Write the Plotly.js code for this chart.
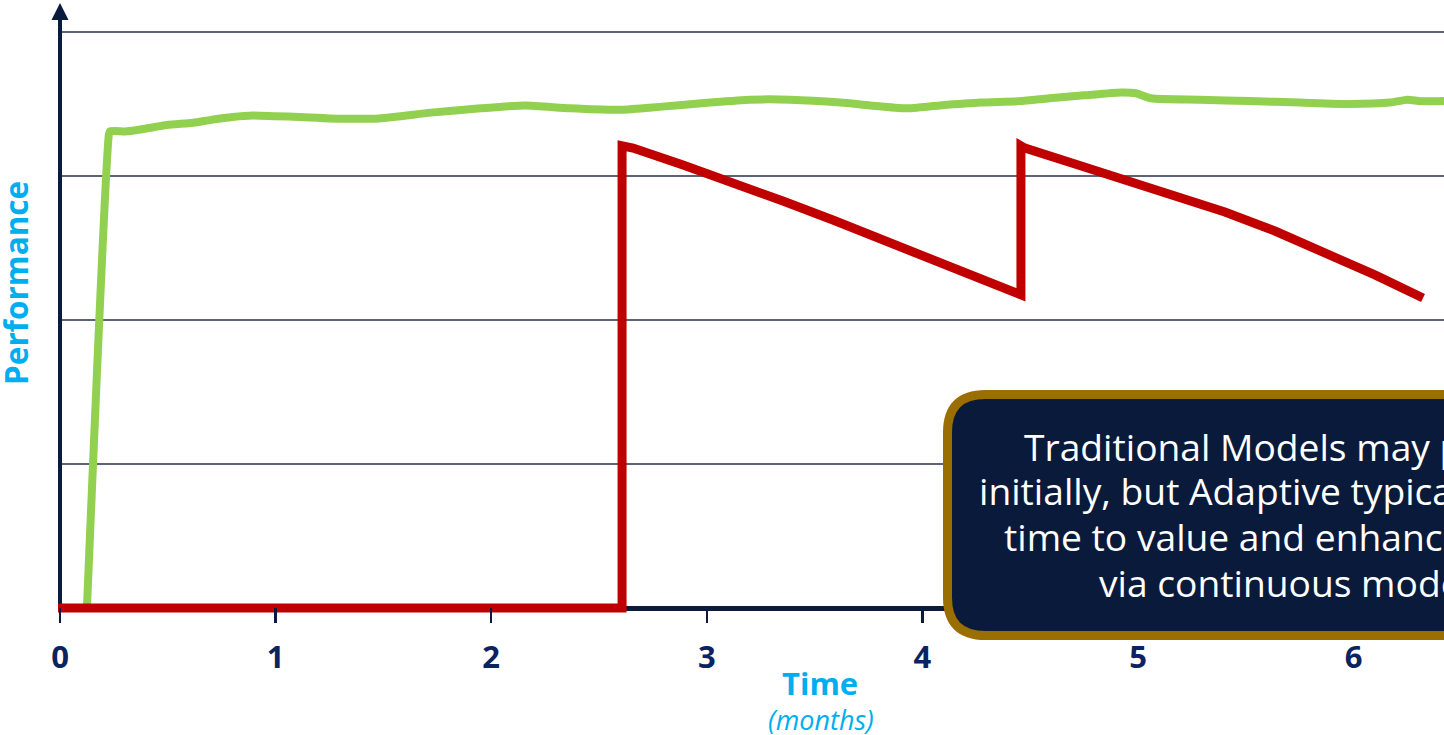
<!DOCTYPE html>
<html>
<head>
<meta charset="utf-8">
<script src="https://cdn.plot.ly/plotly-3.0.1.min.js"></script>
<style>
  html, body { margin: 0; padding: 0; overflow: hidden; background: #ffffff; }
  #chart { width: 1800px; height: 735px; }
</style>
</head>
<body>
<div id="chart"></div>
<script>
// ---------- data ----------
const xTickVals = [0, 1, 2, 3, 4, 5, 6, 7];
const xTickText = ["0", "1", "2", "3", "4", "5", "6", "7"];

// Adaptive model (green)
const adaptiveX = [0.125, 0.227, 0.232, 0.31, 0.40, 0.496, 0.617, 0.70, 0.80, 0.895, 1.0, 1.113, 1.25, 1.48, 1.72, 1.95, 2.157, 2.365, 2.60, 2.78, 3.015, 3.20, 3.386, 3.62, 3.757, 3.92, 4.08, 4.27, 4.45, 4.59, 4.75, 4.92, 4.99, 5.06, 5.29, 5.52, 5.75, 5.98, 6.17, 6.25, 6.31, 6.42, 6.60];
const adaptiveY = [0.0, 3.29, 3.31, 3.31, 3.33, 3.354, 3.37, 3.39, 3.41, 3.42, 3.415, 3.41, 3.40, 3.40, 3.44, 3.47, 3.49, 3.47, 3.46, 3.48, 3.51, 3.53, 3.53, 3.51, 3.49, 3.47, 3.49, 3.51, 3.52, 3.54, 3.56, 3.58, 3.575, 3.54, 3.53, 3.52, 3.51, 3.50, 3.51, 3.53, 3.52, 3.52, 3.52];

// Traditional model (red)
const traditionalX = [-0.03, 2.607, 2.607, 2.63, 2.658, 2.890, 3.121, 3.353, 3.585, 3.817, 4.049, 4.281, 4.439, 4.452, 4.457, 4.457, 4.476, 4.708, 4.940, 5.172, 5.403, 5.635, 5.867, 6.099, 6.322];
const traditionalY = [0.0, 0.0, 3.21, 3.205, 3.194, 3.076, 2.955, 2.826, 2.694, 2.556, 2.417, 2.285, 2.188, 2.178, 2.175, 3.21, 3.194, 3.083, 2.972, 2.868, 2.750, 2.618, 2.472, 2.313, 2.153];

const noteLines = [
  "Traditional Models may perform well",
  "initially, but Adaptive typically improves",
  "time to value and enhances performance",
  "via continuous modeling."
];
const noteLineStartPx = [1022, 977, 1002, 1097];
const noteLineMidPx = [446, 490, 536, 582];

// ---------- layout geometry (pixels) ----------
const FIG_W = 1800, FIG_H = 735;
const X0PX = 60, XUNIT = 215.6;   // pixel of x=0, pixels per month
const Y0PX = 608, YUNIT = 144;    // pixel of y=0, pixels per unit
const PL = 58, PR = 1600, PT = 3, PB = 623;

const xRange = [(PL - X0PX) / XUNIT, (PR - X0PX) / XUNIT];
const yRange = [(Y0PX - PB) / YUNIT, (Y0PX - PT) / YUNIT];
const px = p => (p - PL) / (PR - PL);
const py = p => (PB - p) / (PB - PT);

const NAVY = "#0a1b3d";
const TICKNAVY = "#0b2360";
const CYAN = "#00aeef";

// rounded note box (stroke-centre coordinates)
const bL = 947.5, bT = 394.5, bB = 635.5, bR = 1700, r = 38;
const boxPath =
  `M ${px(bL + r)},${py(bT)} L ${px(bR - r)},${py(bT)} Q ${px(bR)},${py(bT)} ${px(bR)},${py(bT + r)} ` +
  `L ${px(bR)},${py(bB - r)} Q ${px(bR)},${py(bB)} ${px(bR - r)},${py(bB)} ` +
  `L ${px(bL + r)},${py(bB)} Q ${px(bL)},${py(bB)} ${px(bL)},${py(bB - r)} ` +
  `L ${px(bL)},${py(bT + r)} Q ${px(bL)},${py(bT)} ${px(bL + r)},${py(bT)} Z`;

const arrowPath = `M ${px(51.5)},${py(20)} L ${px(68.5)},${py(20)} L ${px(60)},${py(3)} Z`;

const traces = [
  {
    x: adaptiveX, y: adaptiveY, type: "scatter", mode: "lines",
    name: "Adaptive", line: { color: "#92d050", width: 8, shape: "spline", smoothing: 0.6 },
    hoverinfo: "skip"
  },
  {
    x: traditionalX, y: traditionalY, type: "scatter", mode: "lines",
    name: "Traditional", line: { color: "#c00000", width: 9 }, hoverinfo: "skip"
  }
];

const noteAnnotations = noteLines.map((t, i) => ({
  xref: "paper", yref: "paper", x: px(noteLineStartPx[i]), y: py(noteLineMidPx[i]),
  text: t, showarrow: false, xanchor: "left", yanchor: "middle",
  font: { family: "Open Sans", size: 37.2, color: "#ffffff" }
}));

const layout = {
  width: FIG_W, height: FIG_H,
  margin: { l: PL, r: FIG_W - PR, t: PT, b: FIG_H - PB, pad: 0 },
  paper_bgcolor: "#ffffff", plot_bgcolor: "#ffffff",
  showlegend: false,
  font: { family: "Open Sans, sans-serif" },
  xaxis: {
    range: xRange, showgrid: false, zeroline: false, showline: false,
    tickmode: "array", tickvals: xTickVals, ticktext: xTickText,
    ticks: "inside", ticklen: 15, tickwidth: 2.5, tickcolor: NAVY,
    ticklabelstandoff: 13,
    tickfont: { family: "Open Sans", size: 31, color: TICKNAVY, weight: 700 },
    fixedrange: true
  },
  yaxis: {
    range: yRange, showgrid: true, gridcolor: "#5b6477", gridwidth: 2,
    tickmode: "array", tickvals: [1, 2, 3, 4], showticklabels: false, ticks: "",
    zeroline: true, zerolinecolor: NAVY, zerolinewidth: 5,
    showline: false, fixedrange: true
  },
  shapes: [
    { type: "line", xref: "x", yref: "y", x0: 0, x1: 0, y0: 0, y1: (Y0PX - 20) / YUNIT,
      line: { color: NAVY, width: 4 }, layer: "between" },
    { type: "path", xref: "paper", yref: "paper", path: arrowPath,
      fillcolor: NAVY, line: { width: 0 }, layer: "above" },
    { type: "path", xref: "paper", yref: "paper", path: boxPath,
      fillcolor: "#0a1a3a", line: { color: "#9a6e00", width: 9 }, layer: "above" }
  ],
  annotations: [
    { xref: "paper", yref: "paper", x: px(15), y: py(283), text: "<b>Performance</b>",
      textangle: -90, showarrow: false, xanchor: "center", yanchor: "middle",
      font: { family: "Open Sans", size: 31.5, color: CYAN } },
    { xref: "paper", yref: "paper", x: px(820), y: py(683), text: "<b>Time</b>",
      showarrow: false, xanchor: "center", yanchor: "middle",
      font: { family: "Open Sans", size: 31, color: CYAN } },
    { xref: "paper", yref: "paper", x: px(821), y: py(719), text: "<i>(months)</i>",
      showarrow: false, xanchor: "center", yanchor: "middle",
      font: { family: "Open Sans", size: 27, color: CYAN } }
  ].concat(noteAnnotations)
};

Plotly.newPlot("chart", traces, layout, { staticPlot: true, displayModeBar: false });
</script>
</body>
</html>
